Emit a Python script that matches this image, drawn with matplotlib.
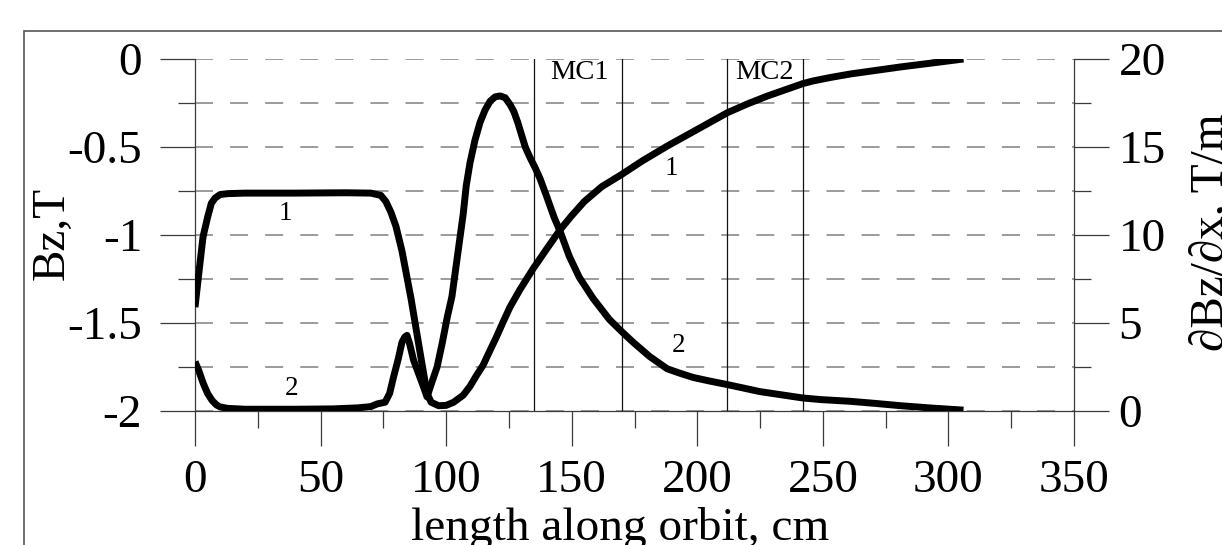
import matplotlib
matplotlib.use("Agg")
import matplotlib.pyplot as plt
from matplotlib.patches import Rectangle
from matplotlib.ticker import MultipleLocator

plt.rcParams['font.family'] = ['Liberation Serif', 'DejaVu Serif']
plt.rcParams['lines.scale_dashes'] = False

# curve 1: Bz, T (left axis)
x_bz = [0, 1.5, 3.2, 5, 6.5, 8, 10, 13, 20, 40, 60, 70, 74, 76, 78, 80, 82.4,
        86, 90, 92.4, 94, 97, 100, 103, 106.8, 109.5, 112, 114.7, 117, 120,
        122.5, 125.4, 129.4, 134.7, 140, 145.4, 150, 155, 162, 170, 178, 188,
        200, 212, 220, 228, 235, 242, 246, 253, 261, 271, 281, 295, 306]
bz = [-1.41, -1.22, -1.01, -0.9, -0.82, -0.79, -0.77, -0.765, -0.762, -0.762,
      -0.76, -0.762, -0.775, -0.81, -0.87, -0.95, -1.09, -1.36, -1.7, -1.9,
      -1.95, -1.97, -1.968, -1.95, -1.91, -1.86, -1.8, -1.74, -1.67, -1.58,
      -1.5, -1.41, -1.31, -1.19, -1.08, -0.97, -0.89, -0.81, -0.725, -0.655,
      -0.58, -0.495, -0.4, -0.305, -0.255, -0.21, -0.175, -0.14, -0.125,
      -0.105, -0.085, -0.065, -0.045, -0.02, 0.0]

# curve 2: dBz/dx, T/m (right axis)
x_g = [0, 1.5, 3.2, 5, 6.8, 8.5, 10, 13, 20, 40, 55, 65, 70, 72.5, 75.7, 77.5,
       79, 81, 82.4, 83.5, 84.4, 85.5, 87, 90.4, 92.4, 94, 96.4, 98.5, 100.4,
       102.3, 104.5, 106.8, 108, 109.5, 111.5, 113.5, 115.5, 117.5, 119.5,
       121.5, 123.5, 125.5, 127, 128.5, 130, 131.5, 133.4, 135.5, 137.4, 140,
       143, 145.4, 149, 153, 158.5, 165, 170, 174.5, 181, 188, 193, 198.5,
       205, 212, 225, 242, 249, 261, 271, 281, 293, 306]
grad = [2.8, 2.3, 1.6, 1.0, 0.6, 0.35, 0.23, 0.15, 0.1, 0.1, 0.12, 0.18, 0.25,
        0.4, 0.5, 1.0, 1.9, 3.0, 3.9, 4.2, 4.3, 3.8, 2.9, 1.6, 0.8, 1.5, 2.5,
        3.9, 5.3, 6.5, 8.8, 11.2, 12.8, 14.1, 15.4, 16.4, 17.1, 17.6, 17.85,
        17.9, 17.8, 17.4, 17.0, 16.4, 15.7, 15.0, 14.4, 13.8, 13.2, 12.2, 11.0,
        10.2, 8.8, 7.6, 6.4, 5.2, 4.5, 3.9, 3.1, 2.4, 2.15, 1.9, 1.7, 1.5, 1.1,
        0.74, 0.65, 0.55, 0.43, 0.3, 0.17, 0.05]

mc_lines = [135, 170, 212, 242]

W, H = 1222, 545
fig = plt.figure(figsize=(W / 100, H / 100), dpi=100)
ax = fig.add_axes([195 / W, 1 - 411 / H, (1074 - 195) / W, (411 - 59) / H])
ax2 = ax.twinx()

spine_c = '#3a3a3a'
grid_c = '#8a8a8a'
FS = 34

ax.set_xlim(0, 350)
ax.set_ylim(-2, 0)
ax2.set_ylim(0, 20)

ax.xaxis.set_major_locator(MultipleLocator(50))
ax.xaxis.set_minor_locator(MultipleLocator(25))
ax.yaxis.set_major_locator(MultipleLocator(0.5))
ax.yaxis.set_minor_locator(MultipleLocator(0.25))
ax2.yaxis.set_major_locator(MultipleLocator(5))
ax2.yaxis.set_minor_locator(MultipleLocator(2.5))

fmt = plt.FuncFormatter(lambda v, p: f"{v:g}")
ax.xaxis.set_major_formatter(fmt)
ax.yaxis.set_major_formatter(fmt)
ax2.yaxis.set_major_formatter(fmt)

for a in (ax, ax2):
    a.spines['top'].set_visible(False)
ax.spines['right'].set_visible(False)
ax2.spines['left'].set_visible(False)
ax2.spines['bottom'].set_visible(False)
for s in ('left', 'bottom'):
    ax.spines[s].set_color(spine_c)
    ax.spines[s].set_linewidth(0.9)
ax2.spines['right'].set_color(spine_c)
ax2.spines['right'].set_linewidth(0.9)

ax.tick_params(axis='both', which='major', direction='out', length=25,
               width=0.9, color=spine_c, labelsize=FS)
ax.tick_params(axis='both', which='minor', direction='out', length=12.5,
               width=0.9, color=spine_c)
ax.tick_params(axis='y', which='major', pad=13)
ax.tick_params(axis='x', which='major', pad=10)
ax2.tick_params(axis='y', which='major', direction='out', length=25,
                width=0.9, color=spine_c, labelsize=FS, pad=7)
ax2.tick_params(axis='y', which='minor', direction='out', length=12.5,
                width=0.9, color=spine_c)

ax.yaxis.grid(True, which='both', color=grid_c, linewidth=1.2,
              linestyle=(0, (12.96, 12.3)))
ax.set_axisbelow(True)

for xm in mc_lines:
    ax.axvline(xm, color='#111111', linewidth=0.9, zorder=2)

ax.plot(x_bz, bz, color='black', linewidth=5, solid_capstyle='butt',
        solid_joinstyle='round', zorder=3)
ax2.plot(x_g, grad, color='black', linewidth=5, solid_capstyle='butt',
         solid_joinstyle='round', zorder=3)

ax.text(141.4, -0.114, 'MC1', fontsize=20.5, ha='left', va='baseline')
ax.text(215, -0.114, 'MC2', fontsize=20.5, ha='left', va='baseline')
ax.text(35.8, -0.88, '1', fontsize=19.5, ha='center', va='center')
ax.text(189.6, -0.62, '1', fontsize=19.5, ha='center', va='center')
ax.text(38.6, -1.87, '2', fontsize=19.5, ha='center', va='center')
ax.text(192.4, -1.63, '2', fontsize=19.5, ha='center', va='center')

fig.text(52 / W, 1 - 233 / H, 'Bz,T', fontsize=FS, rotation=90,
         ha='center', va='center')
fig.text(1212 / W, 1 - 232 / H, '\u2202Bz/\u2202x, T/m', fontsize=FS,
         rotation=90, ha='center', va='center')
fig.text(620 / W, 1 - 540 / H, 'length along orbit, cm', fontsize=FS,
         ha='center', va='baseline')

fig.patches.append(Rectangle((24 / W, -0.1), 1.2, 1 - 31 / H + 0.1,
                             transform=fig.transFigure, fill=False,
                             edgecolor='#555555', linewidth=1.2))

fig.savefig('out.png', dpi=100)
